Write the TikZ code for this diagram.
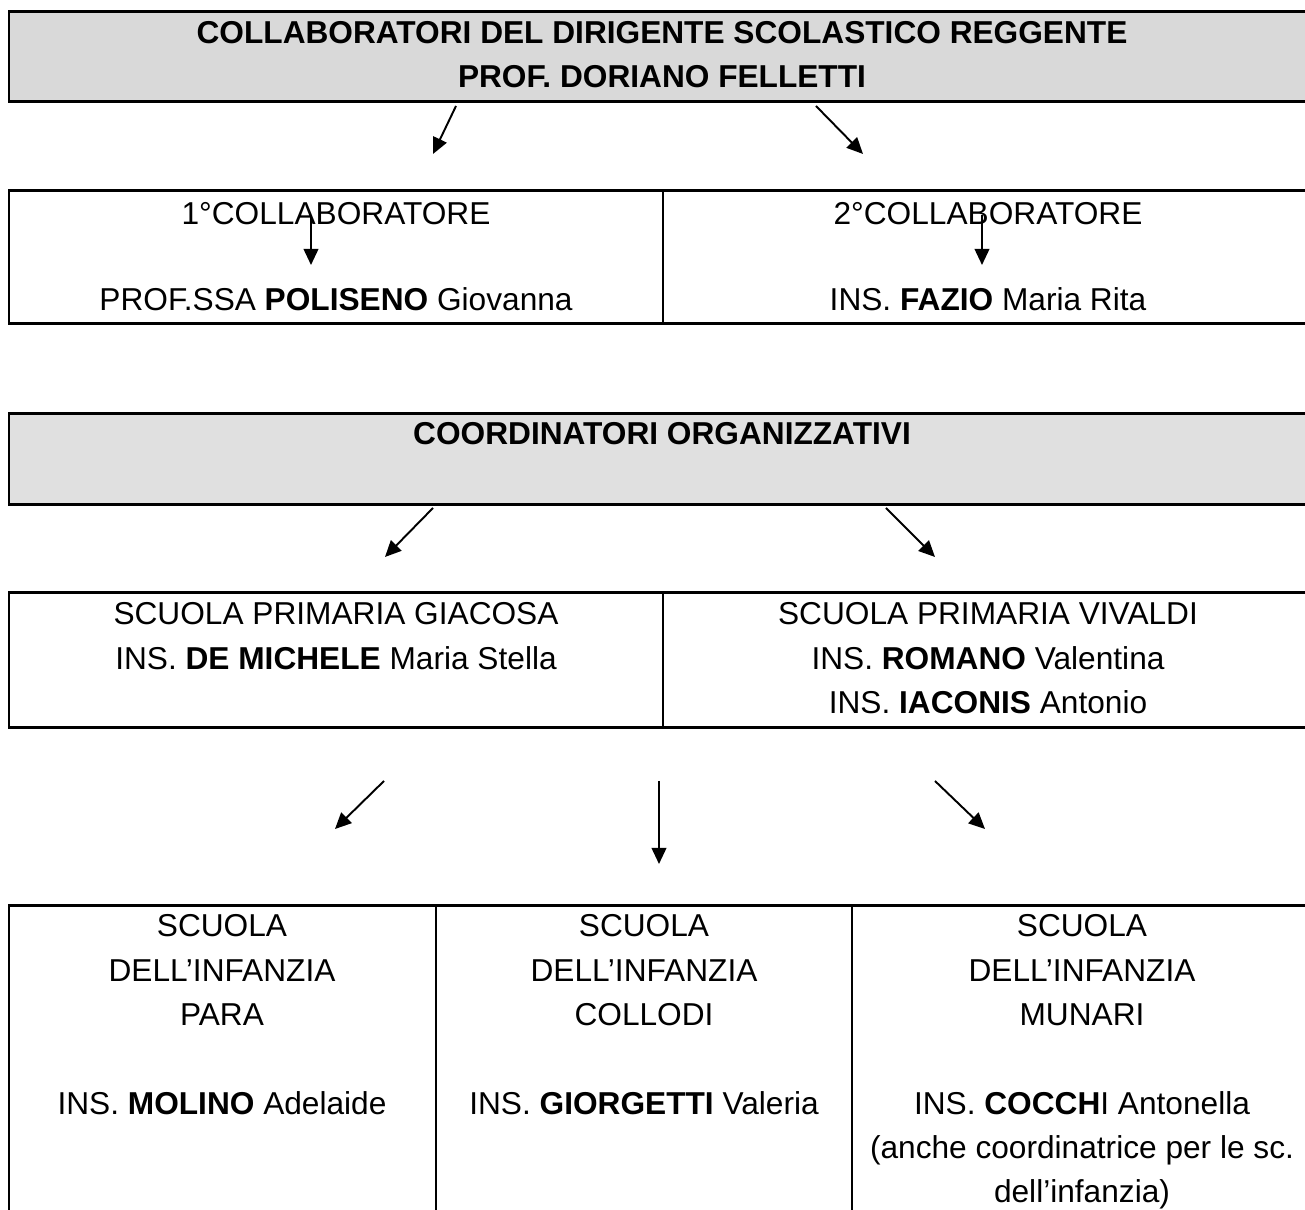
\documentclass[tikz,border=0pt]{standalone}
\usepackage{fontspec}
\setmainfont{Liberation Sans}
\usepackage{xcolor}
\usepackage{tikz}
\usetikzlibrary{arrows.meta}
\definecolor{headgray}{HTML}{D9D9D9}
\definecolor{coordgray}{HTML}{E0E0E0}
\tikzset{
  frame/.style={draw=black, line width=0.85pt},
  split/.style={draw=black, line width=0.5pt},
  arr/.style={draw=black, line width=0.55pt, -{Triangle[length=4.6pt,width=4.2pt]}},
  txt/.style={font=\fontsize{9}{12.6}\selectfont, align=center, inner sep=0pt, anchor=north},
  head/.style={txt, font=\fontsize{9}{12.3}\selectfont\bfseries}
}
\begin{document}
\begin{tikzpicture}[x=0.01cm, y=-0.01cm]
  \useasboundingbox (0,0) rectangle (1305,1210);

  % collaboratori
  \draw[frame, fill=headgray] (9,12) rectangle (1313,102);
  \node[head] (dirigente) at (662,21) {COLLABORATORI DEL DIRIGENTE SCOLASTICO REGGENTE\\PROF. DORIANO FELLETTI};

  \draw[frame] (9,191) rectangle (1313,324);
  \draw[split] (663,191) -- (663,324);
  \node[txt] (coll1) at (336,202) {1°COLLABORATORE};
  \node[txt] (poliseno) at (336,287) {PROF.SSA \textbf{POLISENO} Giovanna};
  \node[txt] (coll2) at (988,202) {2°COLLABORATORE};
  \node[txt] (fazio) at (988,287) {INS. \textbf{FAZIO} Maria Rita};

  \coordinate (dirL-a) at (456,106);
  \coordinate (dirL-b) at (433,154);
  \coordinate (dirR-a) at (816,106);
  \coordinate (dirR-b) at (863,154);
  \coordinate (coll1-a) at (311,215);
  \coordinate (coll1-b) at (311,265);
  \coordinate (coll2-a) at (982,215);
  \coordinate (coll2-b) at (982,265);
  \draw[arr] (dirL-a) -- (dirL-b);
  \draw[arr] (dirR-a) -- (dirR-b);
  \draw[arr] (coll1-a) -- (coll1-b);
  \draw[arr] (coll2-a) -- (coll2-b);

  % coordinatori
  \draw[frame, fill=coordgray] (9,414) rectangle (1313,505);
  \node[head] (coord) at (662,422) {COORDINATORI ORGANIZZATIVI};

  \coordinate (crdL-a) at (433,508);
  \coordinate (crdL-b) at (385,557);
  \coordinate (crdR-a) at (886,508);
  \coordinate (crdR-b) at (935,557);
  \draw[arr] (crdL-a) -- (crdL-b);
  \draw[arr] (crdR-a) -- (crdR-b);

  \draw[frame] (9,593) rectangle (1313,728);
  \draw[split] (663,593) -- (663,728);
  \node[txt] (giacosa) at (336,602) {SCUOLA PRIMARIA GIACOSA\\INS. \textbf{DE MICHELE} Maria Stella};
  \node[txt] (vivaldi) at (988,602) {SCUOLA PRIMARIA VIVALDI\\INS. \textbf{ROMANO} Valentina\\INS. \textbf{IACONIS} Antonio};

  \coordinate (infL-a) at (384,781);
  \coordinate (infL-b) at (335,829);
  \coordinate (infC-a) at (659,781);
  \coordinate (infC-b) at (659,864);
  \coordinate (infR-a) at (935,781);
  \coordinate (infR-b) at (985,829);
  \draw[arr] (infL-a) -- (infL-b);
  \draw[arr] (infC-a) -- (infC-b);
  \draw[arr] (infR-a) -- (infR-b);

  % infanzia
  \draw[frame] (9,906) rectangle (1313,1240);
  \draw[split] (436,906) -- (436,1240);
  \draw[split] (852,906) -- (852,1240);
  \node[txt] (para) at (222,914) {SCUOLA\\DELL’INFANZIA\\PARA\\[12.6pt]INS. \textbf{MOLINO} Adelaide};
  \node[txt] (collodi) at (644,914) {SCUOLA\\DELL’INFANZIA\\COLLODI\\[12.6pt]INS. \textbf{GIORGETTI} Valeria};
  \node[txt] (munari) at (1082,914) {SCUOLA\\DELL’INFANZIA\\MUNARI\\[12.6pt]INS. \textbf{COCCH}I Antonella\\(anche coordinatrice per le sc.\\dell’infanzia)};
\end{tikzpicture}
\end{document}
